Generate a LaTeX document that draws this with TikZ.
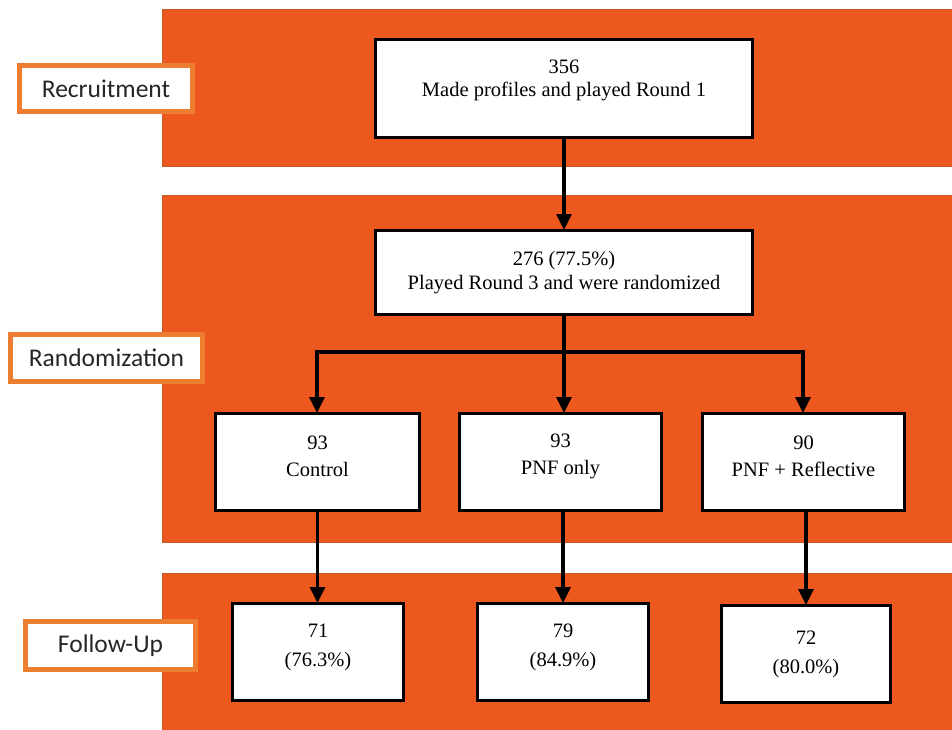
\documentclass[tikz,border=0pt]{standalone}
\usepackage{fontspec}
\setmainfont{Liberation Serif}
\newfontfamily\serf{Liberation Serif}
\newfontfamily\labfont{Carlito}
\usetikzlibrary{arrows.meta}
\definecolor{band}{RGB}{236,88,30}
\definecolor{bandedge}{RGB}{196,90,40}
\definecolor{labedge}{RGB}{237,125,49}
\tikzset{
  bandrect/.style={fill=band, draw=bandedge, line width=0.8pt},
  labbox/.style={draw=labedge, fill=white, line width=5pt, inner sep=0pt,
    font=\labfont\fontsize{25.5}{28}\selectfont, text=black!85},
  flowbox/.style={draw=black, fill=white, line width=3pt, inner sep=0pt},
  flowtxt/.style={align=center, text=black, inner sep=0pt},
  conn/.style={draw=black, line width=3.2pt},
  arr/.style={conn, -{Triangle[width=15pt,length=16pt]}, shorten >=-1pt}
}
\begin{document}
\begin{tikzpicture}[x=1pt,y=-1pt]
\useasboundingbox (0,0) rectangle (952,729);
\fill[white] (0,0) rectangle (952,729);
% bands
\draw[bandrect] (162,9) rectangle (953,166);
\draw[bandrect] (162,195) rectangle (953,542);
\draw[bandrect] (162,573) rectangle (953,730);
% stage labels
\node[labbox, minimum width=173pt, minimum height=46pt] (lrec) at (106,88.5) {Recruitment};
\node[labbox, minimum width=192pt, minimum height=47pt] (lran) at (106.5,358) {Randomization};
\node[labbox, minimum width=170pt, minimum height=48pt] (lfol) at (110.5,645.5) {Follow-Up};
% boxes
\node[flowbox, minimum width=377pt, minimum height=98pt] (top) at (564,88.5) {};
\node[flowtxt, font=\serf\fontsize{20.5}{23.5}\selectfont] (toptxt) at ([yshift=8pt]top.center) {356\\Made profiles and played Round 1};
\node[flowbox, minimum width=377pt, minimum height=84pt] (rand) at (564,272.5) {};
\node[flowtxt, font=\serf\fontsize{20.5}{23.5}\selectfont] (randtxt) at (rand.center) {276 (77.5\%)\\Played Round 3 and were randomized};
\node[flowbox, minimum width=204pt, minimum height=97pt] (ctrl) at (317.5,462) {};
\node[flowtxt, font=\serf\fontsize{20.5}{27}\selectfont] (ctrltxt) at ([yshift=6pt]ctrl.center) {93\\Control};
\node[flowbox, minimum width=202pt, minimum height=97pt] (pnf) at (560.5,462) {};
\node[flowtxt, font=\serf\fontsize{20.5}{27}\selectfont] (pnftxt) at ([yshift=6pt]pnf.center) {93\\PNF only};
\node[flowbox, minimum width=202pt, minimum height=97pt] (refl) at (803.5,462) {};
\node[flowtxt, font=\serf\fontsize{20.5}{27}\selectfont] (refltxt) at ([yshift=6pt]refl.center) {90\\PNF + Reflective};
\node[flowbox, minimum width=171pt, minimum height=97pt] (fa) at (318,652) {};
\node[flowtxt, font=\serf\fontsize{20.5}{29}\selectfont] (fatxt) at ([yshift=5pt]fa.center) {71\\(76.3\%)};
\node[flowbox, minimum width=171pt, minimum height=97pt] (fb) at (563,652) {};
\node[flowtxt, font=\serf\fontsize{20.5}{29}\selectfont] (fbtxt) at ([yshift=5pt]fb.center) {79\\(84.9\%)};
\node[flowbox, minimum width=169pt, minimum height=97pt] (fc) at (806,654) {};
\node[flowtxt, font=\serf\fontsize{20.5}{29}\selectfont] (fctxt) at (fc.center) {72\\(80.0\%)};
% connectors
\draw[arr] (top.south) -- (rand.north);
\coordinate (split) at (564,352);
\coordinate (sl) at (317,352);
\coordinate (sr) at (803,352);
\draw[conn] (rand.south) -- (split);
\draw[conn, line cap=rect] (sl) -- (sr);
\draw[arr] (sl) -- (sl |- ctrl.north);
\draw[arr] (split) -- (split |- pnf.north);
\draw[arr] (sr) -- (sr |- refl.north);
\draw[arr] (ctrl.south) -- (ctrl.south |- fa.north);
\draw[arr] (fb.north |- pnf.south) -- (fb.north);
\draw[arr] (fc.north |- refl.south) -- (fc.north);
\end{tikzpicture}
\end{document}
